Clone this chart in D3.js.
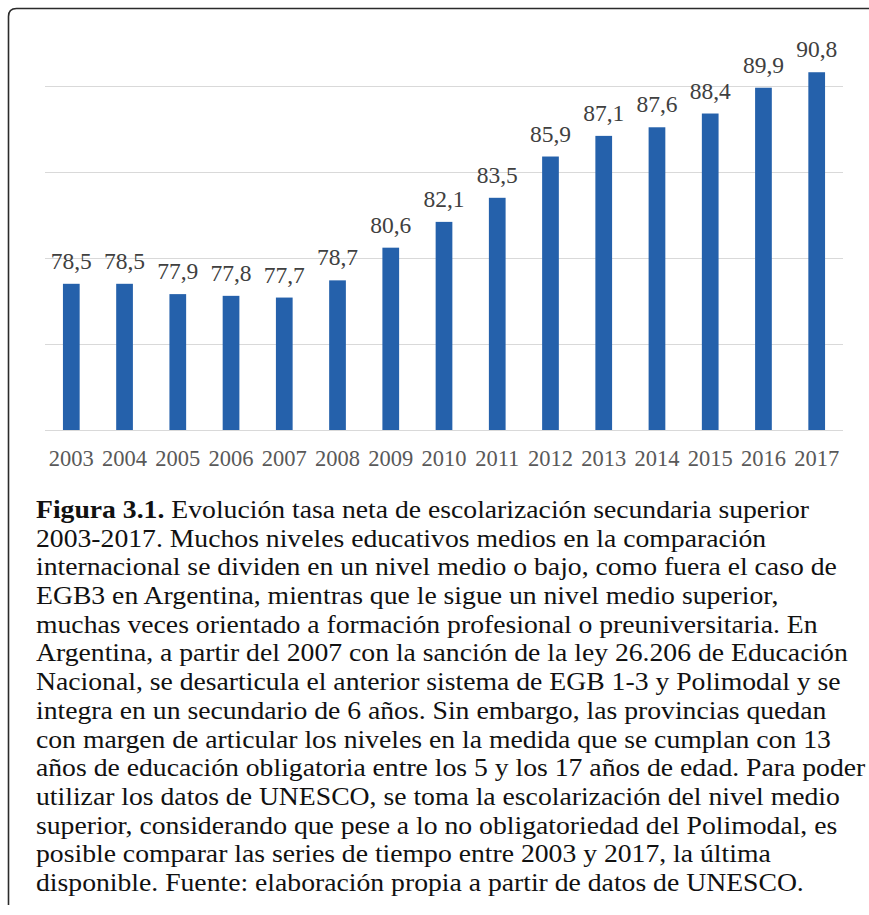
<!DOCTYPE html>
<html>
<head>
<meta charset="utf-8">
<script src="https://cdn.jsdelivr.net/npm/d3@7"></script>
<style>
  body { margin: 0; background: #fff; }
  svg { display: block; }
  .serif { font-family: "Liberation Serif", "Times New Roman", serif; }
</style>
</head>
<body>
<div id="chart-area"></div>
<script>
const years = ["2003", "2004", "2005", "2006", "2007", "2008", "2009", "2010",
  "2011", "2012", "2013", "2014", "2015", "2016", "2017"];
const rates = [78.5, 78.5, 77.9, 77.8, 77.7, 78.7, 80.6, 82.1, 83.5, 85.9,
  87.1, 87.6, 88.4, 89.9, 90.8];
const yTicks = [70, 75, 80, 85, 90];

const captionBold = "Figura 3.1.";
const captionLines = [
  " Evolución tasa neta de escolarización secundaria superior",
  "2003-2017. Muchos niveles educativos medios en la comparación",
  "internacional se dividen en un nivel medio o bajo, como fuera el caso de",
  "EGB3 en Argentina, mientras que le sigue un nivel medio superior,",
  "muchas veces orientado a formación profesional o preuniversitaria. En",
  "Argentina, a partir del 2007 con la sanción de la ley 26.206 de Educación",
  "Nacional, se desarticula el anterior sistema de EGB 1-3 y Polimodal y se",
  "integra en un secundario de 6 años. Sin embargo, las provincias quedan",
  "con margen de articular los niveles en la medida que se cumplan con 13",
  "años de educación obligatoria entre los 5 y los 17 años de edad. Para poder",
  "utilizar los datos de UNESCO, se toma la escolarización del nivel medio",
  "superior, considerando que pese a lo no obligatoriedad del Polimodal, es",
  "posible comparar las series de tiempo entre 2003 y 2017, la última",
  "disponible. Fuente: elaboración propia a partir de datos de UNESCO."
];

const drawChart = () => {
  const size = { width: 869, height: 915 };
  const plot = { left: 45, right: 843, top: 86, bottom: 430 };

  const svg = d3.select("#chart-area")
    .append("svg")
    .attr("width", size.width)
    .attr("height", size.height);

  // frame: only left and top edges show in the crop
  svg.append("path")
    .attr("d", "M8.5,905 L8.5,16.5 Q8.5,8.5 16.5,8.5 L880,8.5")
    .attr("fill", "none")
    .attr("stroke", "#2b2b2b")
    .attr("stroke-width", 1.6);

  const x = d3.scaleBand()
    .domain(years)
    .range([plot.left, plot.right])
    .paddingInner(0.686)
    .paddingOuter(0.337);

  const y = d3.scaleLinear()
    .domain([70, 90])
    .range([plot.bottom, plot.top]);

  const yAxis = d3.axisLeft(y)
    .tickValues(yTicks)
    .tickSize(-(plot.right - plot.left))
    .tickFormat("");

  svg.append("g")
    .attr("class", "grid")
    .attr("transform", `translate(${plot.left}, 0)`)
    .call(yAxis)
    .call(g => g.select(".domain").remove())
    .call(g => g.selectAll(".tick line")
      .attr("stroke", "#d9d9d9")
      .attr("stroke-width", 1.2));

  const xAxis = d3.axisBottom(x).tickSize(0).tickPadding(0);

  svg.append("g")
    .attr("class", "x-axis")
    .attr("transform", `translate(0, ${plot.bottom})`)
    .call(xAxis)
    .attr("font-family", null)
    .attr("font-size", null)
    .call(g => g.select(".domain").remove())
    .call(g => g.selectAll("text")
      .attr("class", "serif")
      .attr("dy", null)
      .attr("y", 36)
      .attr("fill", "#595959")
      .style("font-size", "22.5px"));

  svg.selectAll("rect.bar")
    .data(rates)
    .enter()
    .append("rect")
    .attr("class", "bar")
    .attr("x", (d, i) => x(years[i]))
    .attr("y", d => y(d))
    .attr("width", x.bandwidth())
    .attr("height", d => y(70) - y(d))
    .attr("fill", "#2561ab");

  svg.selectAll("text.value")
    .data(rates)
    .enter()
    .append("text")
    .attr("class", "value serif")
    .attr("x", (d, i) => x(years[i]) + x.bandwidth() / 2)
    .attr("y", d => y(d) - 15)
    .attr("text-anchor", "middle")
    .attr("fill", "#404040")
    .style("font-size", "23.5px")
    .text(d => d.toFixed(1).replace(".", ","));

  // caption font is wider than Times, stretch a bit
  const caption = svg.append("text")
    .attr("class", "serif")
    .attr("transform", "translate(36, 0) scale(1.065, 1)")
    .attr("fill", "#111")
    .style("font-size", "26px");

  captionLines.forEach((line, i) => {
    const t = caption.append("tspan")
      .attr("x", 0)
      .attr("y", 518 + i * 28.7);
    if (i === 0) {
      t.append("tspan").attr("font-weight", "bold").text(captionBold);
      t.append("tspan").text(line);
    } else {
      t.text(line);
    }
  });
};

window.onload = drawChart;
</script>
</body>
</html>
